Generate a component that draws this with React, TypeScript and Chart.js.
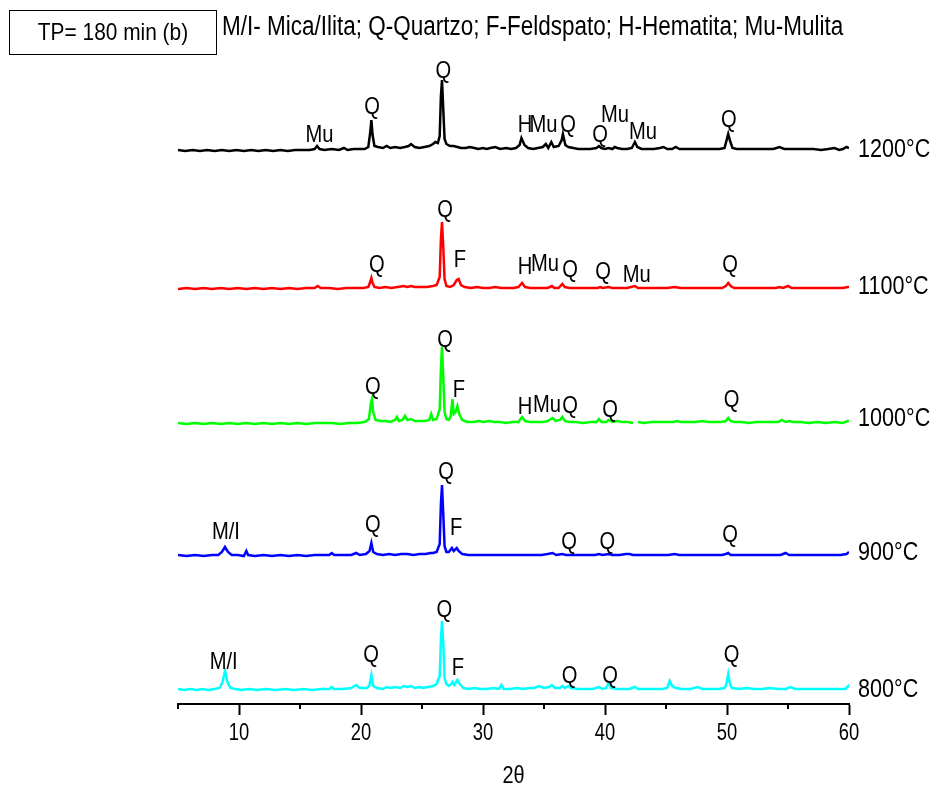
import React, { useEffect, useRef } from "react";
import { Chart, registerables } from "chart.js";

Chart.register(...registerables);

const FONT = '"Liberation Sans", Arial, sans-serif';

// Series names, colours and vertical offsets (y units = stacked intensity)
const temperatures = ["1200°C", "1100°C", "1000°C", "900°C", "800°C"];
const colors = ["#000000", "#ff0000", "#00ff00", "#0000ff", "#00ffff"];
const offsets = [553, 415, 280, 148, 14];
const tempLabelY = [554, 417, 285, 151, 14];

const xMin = 5;
const xMax = 60;
const yMax = 644;
const xTitle = "2θ";
const boxText = "TP= 180 min (b)";
const legendText = "M/I- Mica/Ilita; Q-Quartzo; F-Feldspato; H-Hematita; Mu-Mulita";

// Diffractogram profiles: [2θ, intensity above own baseline]
const profile1200: [number, number | null][] = [
  [5.0, 1], [5.6, 0], [6.2, 1], [6.8, 0], [7.4, 1], [8.0, 0], [8.6, 1], [9.2, 0], [9.8, 1], [10.4, 0],
  [11.0, 1], [11.6, 0], [12.2, 1], [12.8, 0], [13.4, 1], [14.0, 0], [14.6, 1], [15.2, 1], [15.8, 1], [16.2, 2],
  [16.4, 5], [16.6, 2], [17.0, 1], [17.6, 2], [18.2, 1], [18.6, 3], [18.9, 1], [19.4, 2], [19.8, 2], [20.3, 2],
  [20.6, 4], [20.75, 18], [20.85, 31], [20.95, 16], [21.1, 5], [21.4, 4], [21.8, 3], [22.1, 5], [22.4, 3], [22.8, 4],
  [23.2, 3], [23.6, 4], [23.9, 5], [24.1, 7], [24.4, 4], [24.8, 3], [25.2, 4], [25.6, 5], [25.9, 7], [26.1, 9],
  [26.3, 8], [26.45, 15], [26.55, 55], [26.64, 71], [26.75, 40], [26.85, 12], [27.0, 7], [27.3, 5], [27.6, 5], [27.9, 4],
  [28.2, 3], [28.6, 3], [28.9, 4], [29.3, 3], [29.6, 2], [30.0, 3], [30.3, 2], [30.6, 3], [31.0, 4], [31.4, 2],
  [31.9, 3], [32.3, 2], [32.7, 3], [33.0, 6], [33.15, 13], [33.4, 6], [33.7, 3], [34.1, 2], [34.5, 3], [34.9, 4],
  [35.15, 7], [35.35, 3], [35.6, 9], [35.8, 4], [36.2, 5], [36.45, 11], [36.55, 17], [36.75, 6], [37.0, 4], [37.4, 3],
  [37.8, 2], [38.3, 2], [38.8, 2], [39.3, 3], [39.5, 5], [39.7, 3], [40.0, 2], [40.3, 3], [40.6, 2], [40.8, 4],
  [41.0, 3], [41.4, 2], [41.8, 2], [42.2, 3], [42.45, 9], [42.65, 4], [43.0, 2], [43.5, 2], [44.0, 2], [44.5, 3],
  [44.8, 4], [45.1, 2], [45.5, 2], [45.8, 4], [46.1, 2], [46.6, 2], [47.2, 2], [47.8, 2], [48.4, 2], [48.9, 2],
  [49.4, 2], [49.8, 3], [49.95, 10], [50.1, 17], [50.25, 10], [50.45, 3], [50.8, 2], [51.4, 2], [52.0, 2], [52.6, 2],
  [53.2, 2], [53.8, 2], [54.3, 4], [54.7, 2], [55.3, 2], [55.9, 2], [56.5, 2], [57.1, 2], [57.7, 1], [58.3, 2],
  [58.8, 3], [59.2, 1], [59.5, 2], [59.8, 4], [60.0, 3],
];

const profile1100: [number, number | null][] = [
  [5.0, 0], [5.7, 1], [6.4, 0], [7.1, 1], [7.8, 0], [8.5, 1], [9.2, 0], [9.9, 1], [10.6, 0], [11.3, 1],
  [12.0, 0], [12.7, 1], [13.4, 0], [14.1, 1], [14.8, 0], [15.5, 1], [16.2, 1], [16.45, 3], [16.7, 1], [17.4, 1],
  [18.1, 0], [18.8, 1], [19.5, 1], [20.2, 1], [20.6, 2], [20.75, 7], [20.85, 11], [20.95, 6], [21.1, 2], [21.5, 1],
  [22.0, 2], [22.5, 1], [23.0, 2], [23.5, 3], [23.8, 2], [24.1, 3], [24.4, 2], [24.9, 2], [25.4, 2], [25.9, 3],
  [26.2, 4], [26.45, 12], [26.55, 50], [26.64, 67], [26.75, 40], [26.85, 10], [27.0, 3], [27.3, 2], [27.6, 4], [27.85, 9],
  [28.0, 10], [28.2, 4], [28.5, 2], [29.0, 1], [29.5, 2], [30.0, 1], [30.5, 1], [31.0, 2], [31.5, 1], [32.0, 1],
  [32.5, 1], [32.9, 2], [33.2, 6], [33.45, 2], [33.9, 1], [34.4, 1], [34.9, 1], [35.3, 1], [35.65, 3], [35.85, 1],
  [36.2, 1], [36.5, 5], [36.7, 2], [37.1, 1], [37.6, 1], [38.2, 1], [38.8, 1], [39.4, 1], [39.6, 2], [39.8, 1],
  [40.3, 2], [40.6, 1], [41.2, 1], [41.8, 1], [42.45, 3], [42.7, 1], [43.3, 1], [43.9, 1], [44.5, 1], [45.1, 1],
  [45.7, 2], [46.2, 1], [46.9, 1], [47.6, 1], [48.3, 1], [49.0, 1], [49.6, 1], [49.9, 3], [50.1, 6], [50.3, 3],
  [50.6, 1], [51.2, 1], [51.9, 1], [52.6, 1], [53.3, 1], [54.0, 1], [54.3, 2], [54.6, 1], [55.0, 3], [55.3, 1],
  [56.0, 1], [56.7, 1], [57.4, 1], [58.1, 1], [58.8, 1], [59.5, 1], [59.9, 2], [60.0, 2],
];

const profile1000: [number, number | null][] = [
  [5.0, 1], [5.7, 0], [6.4, 1], [7.1, 0], [7.8, 1], [8.5, 0], [9.2, 1], [9.9, 0], [10.6, 1], [11.3, 0],
  [12.0, 1], [12.7, 0], [13.4, 1], [14.1, 0], [14.8, 1], [15.5, 0], [16.2, 1], [16.9, 1], [17.6, 1], [18.3, 0],
  [19.0, 1], [19.7, 1], [20.3, 2], [20.65, 5], [20.8, 20], [20.9, 25], [21.0, 12], [21.2, 4], [21.6, 3], [22.0, 3],
  [22.4, 2], [22.8, 4], [22.95, 7], [23.1, 3], [23.4, 4], [23.6, 8], [23.8, 4], [24.1, 5], [24.4, 3], [24.8, 3],
  [25.2, 3], [25.6, 4], [25.75, 10], [25.9, 4], [26.2, 5], [26.45, 15], [26.55, 56], [26.64, 77], [26.75, 45], [26.85, 12],
  [27.0, 5], [27.2, 4], [27.35, 8], [27.5, 25], [27.6, 10], [27.75, 12], [27.9, 18], [28.05, 10], [28.3, 4], [28.7, 2],
  [29.2, 2], [29.7, 3], [30.0, 2], [30.5, 3], [30.9, 2], [31.4, 2], [31.9, 1], [32.4, 2], [32.9, 2], [33.2, 7],
  [33.45, 3], [33.9, 2], [34.4, 2], [34.9, 2], [35.3, 3], [35.7, 6], [35.95, 3], [36.3, 4], [36.5, 7], [36.7, 3],
  [37.1, 2], [37.6, 2], [38.2, 1], [38.8, 2], [39.3, 2], [39.5, 5], [39.7, 2], [40.1, 2], [40.3, 4], [40.6, 2],
  [41.0, 3], [41.4, 2], [41.9, 2], [42.3, 1], [42.5, null], [42.7, 2], [43.2, 1], [43.8, 2], [44.4, 2], [45.0, 2],
  [45.6, 2], [45.9, 3], [46.2, 2], [46.8, 2], [47.4, 2], [48.0, 3], [48.5, 2], [49.0, 2], [49.5, 2], [49.9, 3],
  [50.1, 6], [50.3, 3], [50.6, 2], [51.2, 2], [51.8, 1], [52.4, 2], [53.0, 2], [53.6, 2], [54.2, 2], [54.5, 4],
  [54.8, 2], [55.1, 3], [55.4, 2], [56.0, 2], [56.7, 1], [57.4, 2], [58.1, 1], [58.8, 2], [59.5, 1], [59.9, 3],
  [60.0, 3],
];

const profile900: [number, number | null][] = [
  [5.0, 1], [5.7, 0], [6.4, 1], [7.1, 0], [7.8, 1], [8.3, 1], [8.6, 4], [8.85, 9], [9.1, 4], [9.4, 1],
  [9.9, 1], [10.4, 0], [10.6, 5], [10.75, 1], [11.3, 0], [12.0, 1], [12.7, 0], [13.4, 1], [14.1, 0], [14.8, 1],
  [15.5, 0], [16.2, 1], [16.9, 1], [17.4, 1], [17.6, 3], [17.8, 1], [18.5, 1], [19.2, 1], [19.6, 3], [19.9, 1],
  [20.4, 2], [20.7, 5], [20.85, 13], [21.0, 4], [21.3, 2], [21.8, 1], [22.3, 2], [22.8, 1], [23.3, 2], [23.8, 2],
  [24.3, 1], [24.8, 2], [25.3, 2], [25.7, 3], [25.9, 3], [26.2, 4], [26.45, 12], [26.55, 52], [26.64, 71], [26.75, 40],
  [26.85, 10], [27.0, 4], [27.2, 4], [27.45, 8], [27.6, 5], [27.85, 8], [28.0, 5], [28.3, 2], [28.8, 1], [29.4, 1],
  [30.0, 1], [30.6, 1], [31.2, 1], [31.8, 1], [32.4, 1], [33.0, 1], [33.6, 1], [34.2, 1], [34.8, 1], [35.3, 2],
  [35.7, 3], [36.0, 1], [36.5, 2], [36.8, 1], [37.4, 1], [38.0, 1], [38.6, 1], [39.2, 1], [39.5, 2], [39.8, 1],
  [40.3, 2], [40.6, 1], [41.2, 1], [41.7, 2], [42.0, 2], [42.3, 1], [42.8, 1], [43.4, 1], [44.0, 1], [44.6, 1],
  [45.2, 1], [45.7, 2], [46.1, 1], [46.8, 1], [47.5, 1], [48.2, 1], [48.9, 1], [49.6, 1], [49.9, 2], [50.1, 3],
  [50.3, 1], [50.9, 1], [51.6, 1], [52.3, 1], [53.0, 1], [53.7, 1], [54.4, 1], [54.8, 3], [55.1, 1], [55.8, 1],
  [56.5, 1], [57.2, 1], [57.9, 1], [58.6, 1], [59.3, 1], [59.8, 2], [60.0, 4],
];

const profile800: [number, number | null][] = [
  [5.0, 1], [5.5, 0], [6.0, 1], [6.5, 0], [7.0, 1], [7.5, 0], [8.0, 1], [8.4, 2], [8.65, 8], [8.85, 19],
  [9.05, 8], [9.3, 2], [9.7, 1], [10.2, 0], [10.8, 1], [11.5, 0], [12.2, 1], [13.0, 0], [13.8, 1], [14.5, 0],
  [15.3, 1], [16.0, 0], [16.8, 1], [17.4, 1], [17.6, 3], [17.8, 1], [18.5, 1], [19.2, 2], [19.6, 5], [19.9, 2],
  [20.5, 2], [20.7, 5], [20.85, 15], [21.0, 4], [21.3, 2], [21.8, 1], [22.1, 3], [22.4, 2], [22.8, 3], [23.2, 2],
  [23.5, 4], [23.8, 3], [24.1, 4], [24.4, 2], [24.8, 3], [25.1, 2], [25.5, 3], [25.9, 4], [26.2, 6], [26.45, 14],
  [26.55, 50], [26.64, 69], [26.75, 45], [26.85, 12], [27.0, 6], [27.2, 4], [27.4, 6], [27.5, 8], [27.65, 5], [27.9, 10],
  [28.1, 6], [28.4, 2], [28.8, 1], [29.3, 2], [29.8, 1], [30.3, 1], [30.8, 2], [31.3, 1], [31.5, 5], [31.7, 1],
  [32.2, 1], [32.8, 2], [33.3, 1], [33.8, 2], [34.2, 2], [34.6, 4], [35.0, 2], [35.4, 3], [35.65, 5], [35.9, 2],
  [36.3, 2], [36.5, 4], [36.7, 2], [37.0, 4], [37.2, 2], [37.8, 1], [38.4, 1], [39.0, 1], [39.5, 3], [39.8, 1],
  [40.1, 2], [40.3, 7], [40.5, 2], [41.0, 1], [41.5, 1], [42.0, 1], [42.45, 3], [42.7, 1], [43.3, 1], [44.0, 1],
  [44.7, 1], [45.1, 2], [45.3, 9], [45.5, 4], [45.8, 2], [46.3, 1], [47.0, 1], [47.6, 3], [48.0, 1], [48.7, 1],
  [49.3, 1], [49.8, 2], [49.95, 6], [50.1, 16], [50.25, 6], [50.4, 2], [51.0, 1], [51.6, 2], [52.2, 1], [52.9, 1],
  [53.5, 2], [54.2, 1], [54.8, 1], [55.2, 3], [55.6, 1], [56.3, 1], [57.0, 1], [57.7, 1], [58.4, 1], [59.1, 1],
  [59.7, 1], [59.95, 4], [60.0, 3],
];

const profiles = [profile1200, profile1100, profile1000, profile900, profile800];

// Phase labels: [text, 2θ, y value on the stacked axis]
const peaks1200: [string, number, number][] = [
  ["Mu", 16.6, 569], ["Q", 20.9, 597], ["Q", 26.75, 633], ["H", 33.44, 579], ["Mu", 34.95, 579],
  ["Q", 36.97, 579], ["Q", 39.59, 569], ["Mu", 40.82, 589], ["Mu", 43.11, 572], ["Q", 50.16, 584],
];
const peaks1100: [string, number, number][] = [
  ["Q", 21.29, 439], ["Q", 26.89, 494], ["F", 28.11, 444], ["H", 33.44, 437], ["Mu", 35.08, 440],
  ["Q", 37.13, 434], ["Q", 39.84, 432], ["Mu", 42.6, 429], ["Q", 50.25, 439],
];
const peaks1000: [string, number, number][] = [
  ["Q", 20.98, 317], ["Q", 26.89, 364], ["F", 28.03, 314], ["H", 33.44, 297], ["Mu", 35.25, 299],
  ["Q", 37.13, 298], ["Q", 40.41, 294], ["Q", 50.38, 304],
];
const peaks900: [string, number, number][] = [
  ["M/I", 8.93, 172], ["Q", 20.98, 179], ["Q", 26.97, 232], ["F", 27.79, 176], ["Q", 37.05, 162],
  ["Q", 40.2, 162], ["Q", 50.25, 169],
];
const peaks800: [string, number, number][] = [
  ["M/I", 8.74, 42], ["Q", 20.82, 49], ["Q", 26.84, 94], ["F", 27.95, 36], ["Q", 37.09, 28],
  ["Q", 40.41, 28], ["Q", 50.38, 49],
];
const peakLabels = [peaks1200, peaks1100, peaks1000, peaks900, peaks800];

const majorTicks = [10, 20, 30, 40, 50, 60];
const minorTicks = [5, 15, 25, 35, 45, 55];

function squeezedText(ctx: CanvasRenderingContext2D, text: string, x: number, y: number, size: number, sx: number, align: CanvasTextAlign) {
  ctx.save();
  ctx.translate(x, y);
  ctx.scale(sx, 1);
  ctx.font = `${size}px ${FONT}`;
  ctx.textAlign = align;
  ctx.textBaseline = "middle";
  ctx.fillText(text, 0, 0);
  ctx.restore();
}

const textPlugin = {
  id: "xrdText",
  afterDatasetsDraw(chart: any) {
    const { ctx, scales, chartArea } = chart;
    const xs = scales.x;
    const ys = scales.y;
    ctx.save();
    ctx.fillStyle = "#000";
    peakLabels.forEach((list) => {
      list.forEach(([t, x, y]) => {
        squeezedText(ctx, t, xs.getPixelForValue(x), ys.getPixelForValue(y), 24, 0.84, "center");
      });
    });
    temperatures.forEach((t, i) => {
      squeezedText(ctx, t, chartArea.right + 9, ys.getPixelForValue(tempLabelY[i]), 26, 0.83, "left");
    });
    // x tick labels and title
    majorTicks.forEach((v) => {
      squeezedText(ctx, String(v), xs.getPixelForValue(v), chartArea.bottom + 30, 23, 0.8, "center");
    });
    squeezedText(ctx, xTitle, (chartArea.left + chartArea.right) / 2, 776, 24, 0.83, "center");
    // minor ticks
    ctx.strokeStyle = "#000";
    ctx.lineWidth = 2;
    minorTicks.forEach((v) => {
      const px = Math.round(xs.getPixelForValue(v));
      ctx.beginPath();
      ctx.moveTo(px, chartArea.bottom);
      ctx.lineTo(px, chartArea.bottom + 5);
      ctx.stroke();
    });
    // title box and phase legend
    ctx.lineWidth = 1;
    ctx.strokeRect(9.5, 10.5, 207, 44);
    squeezedText(ctx, boxText, 113, 33, 24, 0.87, "center");
    squeezedText(ctx, legendText, 222, 28, 27, 0.833, "left");
    ctx.restore();
  },
};

export default function App() {
  const ref = useRef<HTMLCanvasElement>(null);
  useEffect(() => {
    document.body.style.margin = "0";
    const datasets = profiles.map((p, i) => ({
      label: temperatures[i],
      data: p.map(([x, h]) => ({ x, y: h === null ? null : h + offsets[i] })),
      borderColor: colors[i],
      backgroundColor: colors[i],
      borderWidth: 2.5,
      pointRadius: 0,
      tension: 0,
      spanGaps: false,
    }));
    const chart = new Chart(ref.current as HTMLCanvasElement, {
      type: "line",
      data: { datasets },
      options: {
        responsive: false,
        animation: false,
        layout: { padding: { left: 178, right: 87, top: 60, bottom: 0 } },
        plugins: { legend: { display: false }, tooltip: { enabled: false } },
        scales: {
          x: {
            type: "linear",
            min: xMin,
            max: xMax,
            afterFit: (scale: any) => {
              scale.height = 88;
            },
            afterBuildTicks: (scale: any) => {
              scale.ticks = [...minorTicks, ...majorTicks].sort((a, b) => a - b).map((v) => ({ value: v }));
            },
            grid: {
              display: true,
              drawOnChartArea: false,
              drawTicks: true,
              tickLength: 11,
              tickWidth: 2,
              tickColor: (c: any) => (c.tick && majorTicks.includes(c.tick.value) ? "#000" : "rgba(0,0,0,0)"),
            },
            border: { display: true, color: "#000", width: 2 },
            ticks: { display: false, autoSkip: false, maxRotation: 0 },
            title: { display: false, text: xTitle },
          },
          y: { type: "linear", min: 0, max: yMax, display: false },
        },
      },
      plugins: [textPlugin],
    });
    return () => chart.destroy();
  }, []);
  return (
    <div style={{ width: 936, height: 792 }}>
      <canvas ref={ref} width={936} height={792} style={{ display: "block" }} />
    </div>
  );
}
